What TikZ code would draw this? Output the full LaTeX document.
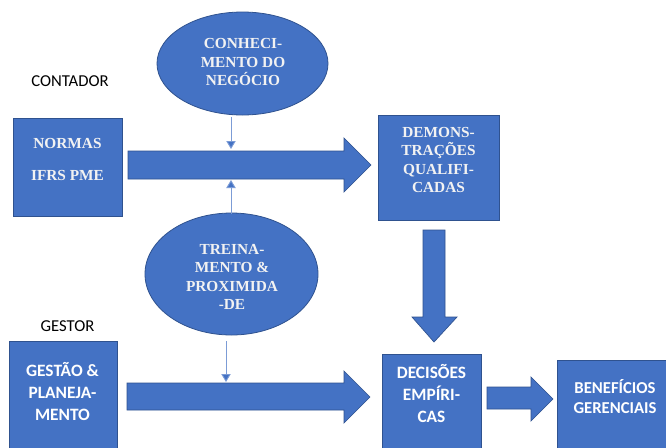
\documentclass[tikz,border=0pt]{standalone}
\usepackage{fontspec}
\usetikzlibrary{shapes.geometric,arrows.meta}
\newfontfamily\serifbf{Liberation Serif}
\newfontfamily\calibri{Carlito}
\definecolor{blu}{HTML}{4472C4}
\definecolor{bdr}{HTML}{2F528F}
\definecolor{thinln}{HTML}{7C9CD6}
\definecolor{txtw}{HTML}{F2F2F2}
\tikzset{
  box/.style={rectangle, draw=bdr, fill=blu, line width=0.6pt, inner sep=0pt},
  ell/.style={ellipse, draw=bdr, fill=blu, line width=0.6pt, inner sep=0pt},
  bar/.style={fill=blu, draw=bdr, line width=0.5pt, line join=miter},
  thinarr/.style={draw=thinln, line width=0.7pt, -{Triangle[width=7pt,length=6pt,fill=blu]}},
  sertxt/.style={text=txtw, align=center, font=\serifbf\bfseries\fontsize{11.5pt}{13.8pt}\selectfont, inner sep=0pt},
  sanstxt/.style={text=white, align=center, font=\calibri\bfseries\fontsize{13pt}{16.5pt}\selectfont, inner sep=0pt},
  lbl/.style={text=black, font=\calibri\fontsize{12.5pt}{15pt}\selectfont, inner sep=0pt}
}
\begin{document}
\begin{tikzpicture}[x=0.75pt,y=-0.75pt]
\clip (0,0) rectangle (666,447);
\fill[white] (0,0) rectangle (666,447);

% labels
\node[lbl] (contador) at (70,81) {CONTADOR};
\node[lbl] (gestor) at (67.5,326) {GESTOR};

% ellipses
\node[ell, minimum width=128.25pt, minimum height=77.25pt] (e1) at (242.5,63.5) {};
\node[sertxt] (e1t) at (243,62) {CONHECI-\\MENTO DO\\NEGÓCIO};
\node[ell, minimum width=129.75pt, minimum height=91.5pt] (e2) at (231.5,274) {};
\node[sertxt] (e2t) at (232,277) {TREINA-\\MENTO \&\\PROXIMIDA\\-DE};

% boxes
\node[box, minimum width=81.75pt, minimum height=73.5pt] (normas) at (67.5,167) {};
\node[sertxt] (normast) at (67.5,159.5) {NORMAS\\[10.5pt]IFRS PME};
\node[box, minimum width=90.75pt, minimum height=78.75pt] (demons) at (438.5,167.5) {};
\node[sertxt] (demonst) at (438.5,160) {DEMONS-\\TRAÇÕES\\QUALIFI-\\CADAS};
\node[box, minimum width=81pt, minimum height=82.5pt] (gestao) at (63,396) {};
\node[sanstxt] (gestaot) at (62.5,391) {GESTÃO \&\\PLANEJA-\\MENTO};
\node[box, minimum width=74.25pt, minimum height=72.75pt] (decisoes) at (431.5,402.5) {};
\node[sanstxt] (decisoest) at (431.5,393) {DECISÕES\\EMPÍRI-\\CAS};
\node[box, minimum width=83.25pt, minimum height=68.25pt] (benef) at (612.5,405.5) {};
\node[sanstxt, font=\calibri\bfseries\fontsize{12.5pt}{15pt}\selectfont] (beneft) at (615,397) {BENEFÍCIOS\\GERENCIAIS};

% block arrows
\draw[bar] (128,151)--(344,151)--(344,138)--(371,165)--(344,192)--(344,179)--(128,179)--cycle;
\draw[bar] (127,383)--(344,383)--(344,371)--(370,397)--(344,423)--(344,410)--(127,410)--cycle;
\draw[bar] (423,230)--(445,230)--(445,317)--(457,317)--(434,342)--(412,317)--(423,317)--cycle;
\draw[bar] (487,387)--(531,387)--(531,377)--(553,399)--(531,421)--(531,409)--(487,409)--cycle;

% thin arrows
\coordinate (s1) at (231,117);
\coordinate (t1) at (231,149);
\coordinate (s2) at (231,214);
\coordinate (t2) at (231,180);
\coordinate (s3) at (226,341);
\coordinate (t3) at (226,382);
\draw[thinarr] (s1) -- (t1);
\draw[thinarr] (s2) -- (t2);
\draw[thinarr] (s3) -- (t3);
\end{tikzpicture}
\end{document}
